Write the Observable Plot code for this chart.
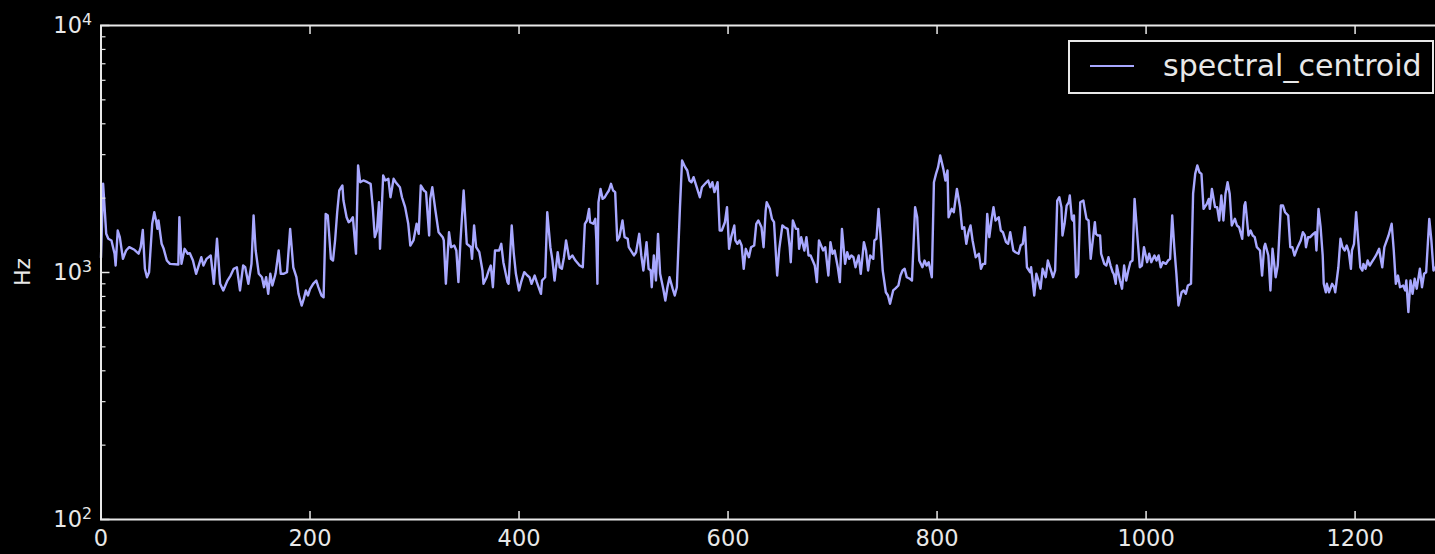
<!DOCTYPE html>
<html>
<head>
<meta charset="utf-8">
<script src="https://cdn.jsdelivr.net/npm/d3@7"></script>
<script src="https://cdn.jsdelivr.net/npm/@observablehq/plot@0.6"></script>
<style>
  html, body { margin: 0; padding: 0; background: #000; overflow: hidden; }
  #chart { position: relative; width: 1435px; height: 554px; overflow: hidden; background: #000;
           font-family: "DejaVu Sans", sans-serif; color: #e8e8e8; }
  #chart svg { position: absolute; left: 0; top: 0; max-width: none !important; }
  #ylabel { position: absolute; left: 22px; top: 272px; transform: translate(-50%, -50%) rotate(-90deg);
            font-size: 22px; white-space: nowrap; }
  #legend { position: absolute; left: 1068px; top: 40px; width: 366px; height: 54px; box-sizing: border-box;
            border: 2px solid #e8e8e8; background: #000; }
  #legend .swatch { position: absolute; left: 20px; top: 23px; width: 44px; height: 2px; background: #a8a8ff; }
  #legend .name { position: absolute; left: 93px; top: 50%; transform: translateY(-53%); font-size: 30px; white-space: nowrap; }
</style>
</head>
<body>
<div id="chart">
  <div id="ylabel">Hz</div>
  <div id="legend"><div class="swatch"></div><div class="name">spectral_centroid</div></div>
</div>
<script>
// Spectral centroid per analysis frame: [frame, Hz]
const centroid = [
  [0,1150],[2,2290],[5,1434],[7,1369],[10,1348],[13,1191],[14,1067],[16,1479],[18,1390],[21,1136],[24,1228],[27,1266],[32,1236],[36,1191],[38,1266],[40,1488],[42,1035],[44,957],[46,1003],[49,1575],[51,1754],[53,1598],[54,1502],[55,1624],[58,1307],[60,1247],[63,1118],[66,1084],[74,1077],[75,1674],[77,1084],[80,1247],[83,1191],[85,1197],[88,1118],[91,988],[94,1084],[96,1153],[98,1067],[101,1136],[105,1172],[108,900],[111,1369],[114,900],
  [117,846],[121,928],[124,972],[127,1035],[130,1050],[133,846],[136,1067],[138,1050],[141,900],[144,1084],[146,1701],[148,1228],[151,988],[154,957],[156,872],[158,957],[160,820],[162,988],[164,886],[167,988],[170,1228],[172,988],[175,988],[178,1003],[181,1502],[184,1050],[187,957],[189,820],[192,735],[194,782],[196,846],[198,807],[200,856],[203,900],[206,928],[208,872],[211,807],[213,794],[215,1728],[217,1701],[220,1136],[222,1118],[224,1348],[226,1754],[228,2148],
  [231,2250],[232,1956],[235,1674],[237,1598],[239,1624],[241,1674],[244,1191],[246,2713],[248,2320],[251,2358],[255,2320],[258,2286],[260,1839],[262,1390],[264,1479],[266,1925],[267,1247],[270,2470],[272,2358],[275,2396],[277,2017],[280,2396],[282,2320],[286,2215],[288,2017],[291,1839],[294,1575],[296,1286],[299,1348],[302,1575],[304,1434],[306,2250],[309,2148],[311,2115],[314,1412],[315,1986],[317,2215],[320,1782],[323,1456],[327,1390],[328,1348],[330,900],[333,1456],[335,1266],[338,1286],[340,1228],[342,914],
  [344,1348],[347,2148],[350,1307],[354,1266],[355,1136],[357,1550],[359,1266],[362,1208],[365,1019],[366,900],[369,957],[371,1019],[373,1067],[375,872],[377,1228],[381,1228],[383,1307],[385,1101],[389,914],[390,900],[393,1550],[395,1191],[397,988],[400,846],[402,914],[405,1003],[408,972],[410,957],[412,900],[415,972],[417,914],[421,820],[422,928],[425,957],[427,1754],[430,1266],[432,1118],[434,928],[437,1208],[439,1050],[441,1035],[443,1153],[445,1348],[448,1136],[451,1172],[454,1118],[458,1067],
  [461,1050],[463,1575],[465,1624],[467,1810],[468,1598],[471,1575],[473,1649],[474,1348],[475,900],[476,1925],[478,2180],[480,1986],[482,2017],[484,2085],[486,2148],[488,2286],[490,2148],[492,2115],[494,1348],[496,1390],[499,1624],[501,1390],[504,1369],[505,1266],[508,1208],[510,1172],[512,1208],[515,1434],[517,1172],[519,1019],[522,1327],[524,1035],[526,1019],[527,872],[529,1172],[531,928],[533,1434],[535,988],[538,860],[540,770],[542,872],[544,957],[547,860],[549,807],[551,872],[554,1839],[556,2841],[559,2670],[561,2588],[563,2358],[565,2320],[567,2431],[570,2215],
  [573,2017],[575,2215],[578,2286],[581,2358],[583,2215],[585,2320],[587,2115],[590,2320],[592,1479],[594,1479],[597,1598],[599,1839],[601,1247],[603,1390],[606,1550],[607,1348],[609,1307],[611,1348],[613,1286],[615,1035],[617,1247],[620,1153],[622,1266],[625,1286],[627,1575],[629,1624],[632,1525],[634,1266],[636,1782],[637,1925],[640,1810],[642,1649],[644,1598],[647,972],[649,1247],[652,1550],[654,1525],[657,1502],[659,1266],[660,1101],[662,1624],[665,1502],[667,1502],[668,1247],[670,1390],[673,1228],[675,1390],[677,1172],[679,1172],[681,1118],[683,1067],[685,914],[687,1348],
  [691,1228],[693,1266],[696,972],[698,1327],[700,1191],[702,1228],[705,1050],[707,914],[709,1502],[712,1084],[714,1208],[716,1136],[718,1172],[720,1153],[722,1050],[725,1172],[727,988],[730,1327],[732,1228],[734,1019],[736,1172],[739,1136],[740,1348],[742,1369],[744,1810],[746,1390],[748,1019],[751,832],[753,807],[755,747],[758,846],[760,860],[763,886],[765,972],[767,1019],[769,1035],[771,957],[774,943],[776,928],[779,1839],[781,1674],[783,1118],[786,1050],[788,1118],[790,1067],[792,1101],[795,957],[797,2320],[799,2508],[801,2670],[803,2977],[806,2627],[808,2358],[810,2588],[811,1674],[814,1810],[816,1754],[819,2180],[822,1839],[824,1502],[826,1525],[828,1307],[830,1456],[832,1550],[834,1348],[837,1153],[840,1191],[842,1035],[844,1084],[846,1084],[848,1728],[850,1390],[852,1624],[854,1839],[856,1624],[859,1674],[861,1479],[863,1456],[866,1327],[868,1307],[870,1456],[873,1228],[875,1208],[878,1191],[880,1286],[882,1307],[884,1525],[886,1050],[889,1003],[890,1050],[893,807],[895,988],[897,928],[899,860],[901,1035],[904,957],[906,1118],[909,1019],[911,957],[913,1019],
  [915,1956],[917,2017],[919,1839],[920,1412],[922,1575],[924,1867],[926,1925],[927,2050],[929,1649],[930,1624],[931,1701],[933,957],[935,988],[937,1925],[940,1956],[941,1839],[943,1649],[945,1624],[947,1136],[949,1348],[951,1598],[952,1434],[954,1412],[956,1412],[957,1191],[960,1084],[962,1067],[964,1153],[966,1067],[968,1003],[969,988],[971,900],[972,1067],[975,928],[977,860],[979,1067],[981,928],[983,1019],[985,1101],[987,1118],[989,1986],[992,1348],[994,1050],[996,1067],[998,1266],[1000,1153],[1001,1101],[1003,1191],[1005,1101],[1008,1172],[1010,1118],[1012,1172],[1014,1050],[1016,1101],[1019,1084],[1021,1118],[1023,1136],[1025,1701],[1027,1266],[1029,988],[1031,735],
  [1034,832],[1036,846],[1038,820],[1040,886],[1043,900],[1045,2085],[1047,2508],[1049,2713],[1051,2547],[1053,2508],[1055,1810],[1058,1892],[1060,1986],[1061,1810],[1063,2180],[1066,1839],[1068,1839],[1070,1624],[1072,2050],[1074,1624],[1076,2085],[1078,2320],[1080,2085],[1082,1550],[1085,1649],[1087,1550],[1089,1525],[1092,1369],[1094,1867],[1095,1925],[1098,1412],[1100,1479],[1102,1412],[1104,1390],[1106,1266],[1109,1228],[1111,972],[1113,1266],[1114,1307],[1117,1172],[1119,846],[1121,1247],[1124,957],[1126,1067],[1129,1867],[1131,1867],[1133,1754],[1136,1701],[1138,1266],[1140,1266],[1142,1172],[1145,1266],
  [1148,1348],[1150,1456],[1152,1412],[1153,1266],[1155,1390],[1157,1390],[1160,1434],[1162,1456],[1163,1228],[1165,1810],[1167,1525],[1169,1172],[1170,900],[1172,832],[1173,900],[1175,832],[1178,900],[1180,872],[1181,832],[1184,1050],[1186,1369],[1188,1266],[1190,1228],[1192,1286],[1194,1208],[1196,1035],[1197,1228],[1199,1307],[1201,1754],[1203,1348],[1205,1050],[1207,1019],[1208,1084],[1210,1035],[1212,1118],[1214,1067],[1216,1101],[1218,1136],[1220,1172],[1223,1247],[1224,1172],[1226,1050],[1228,1266],[1232,1412],[1235,1575],[1237,1228],[1239,900],[1241,972],[1243,872],[1246,886],[1248,846],[1249,928],[1251,691],[1253,928],[1255,820],[1257,943],[1259,860],[1262,1035],[1264,872],[1266,988],[1268,1003],[1271,1649],[1273,1348],[1275,1019],[1277,1050]
];

// Axis ticks
const xTicks = [0, 200, 400, 600, 800, 1000, 1200];
const yMajor = [100, 1000, 10000];
const yMinor = [200, 300, 400, 500, 600, 700, 800, 900, 2000, 3000, 4000, 5000, 6000, 7000, 8000, 9000];
const xDomain = [0, 1320];
const yDomain = [100, 10000];

const rows = centroid.map(([frame, hz]) => ({frame, hz}));
const fg = "#e8e8e8";

const svg = Plot.plot({
  width: 1480,
  height: 554,
  marginLeft: 100.5,
  marginRight: 0,
  marginTop: 25,
  marginBottom: 35,
  style: {background: "#000", color: fg, fontFamily: "DejaVu Sans, sans-serif", overflow: "visible"},
  x: {domain: xDomain},
  y: {type: "log", domain: yDomain},
  marks: [
    Plot.line(rows, {x: "frame", y: "hz", stroke: "#a8a8ff", strokeWidth: 2.4, strokeLinejoin: "round"}),
    Plot.frame({stroke: fg, strokeWidth: 2}),
    // inward ticks, matplotlib-classic style
    Plot.axisX({anchor: "bottom", ticks: xTicks, tickSize: -8, tickFormat: () => "", label: null, strokeWidth: 1.5}),
    Plot.axisX({anchor: "top", ticks: xTicks, tickSize: -8, tickFormat: () => "", label: null, strokeWidth: 1.5}),
    Plot.axisY({anchor: "left", ticks: yMajor, tickSize: -9, tickFormat: () => "", label: null, strokeWidth: 1.5}),
    Plot.axisY({anchor: "left", ticks: yMinor, tickSize: -5, tickFormat: () => "", label: null, strokeWidth: 1.2}),
    // tick labels
    Plot.axisX({anchor: "bottom", ticks: xTicks, tickSize: 0, tickPadding: 11, fontSize: 22.5, label: null, tickFormat: d => String(d)}),
    Plot.axisY({anchor: "left", ticks: yMajor, tickSize: 0, tickPadding: 9, fontSize: 22.5, label: null,
                tickFormat: d => "10^" + Math.round(Math.log10(d))})
  ]
});
svg.style.maxWidth = "none";
svg.style.height = "554px";

// render exponents as raised superscripts
const ns = "http://www.w3.org/2000/svg";
svg.querySelectorAll("text").forEach(t => {
  const s = t.textContent;
  if (!s.includes("^")) return;
  const [base, exp] = s.split("^");
  t.textContent = "";
  const b = document.createElementNS(ns, "tspan");
  b.textContent = base;
  const e = document.createElementNS(ns, "tspan");
  e.textContent = exp;
  e.setAttribute("dy", "-0.5em");
  e.setAttribute("font-size", "0.7em");
  t.appendChild(b);
  t.appendChild(e);
});

document.getElementById("chart").prepend(svg);
</script>
</body>
</html>
